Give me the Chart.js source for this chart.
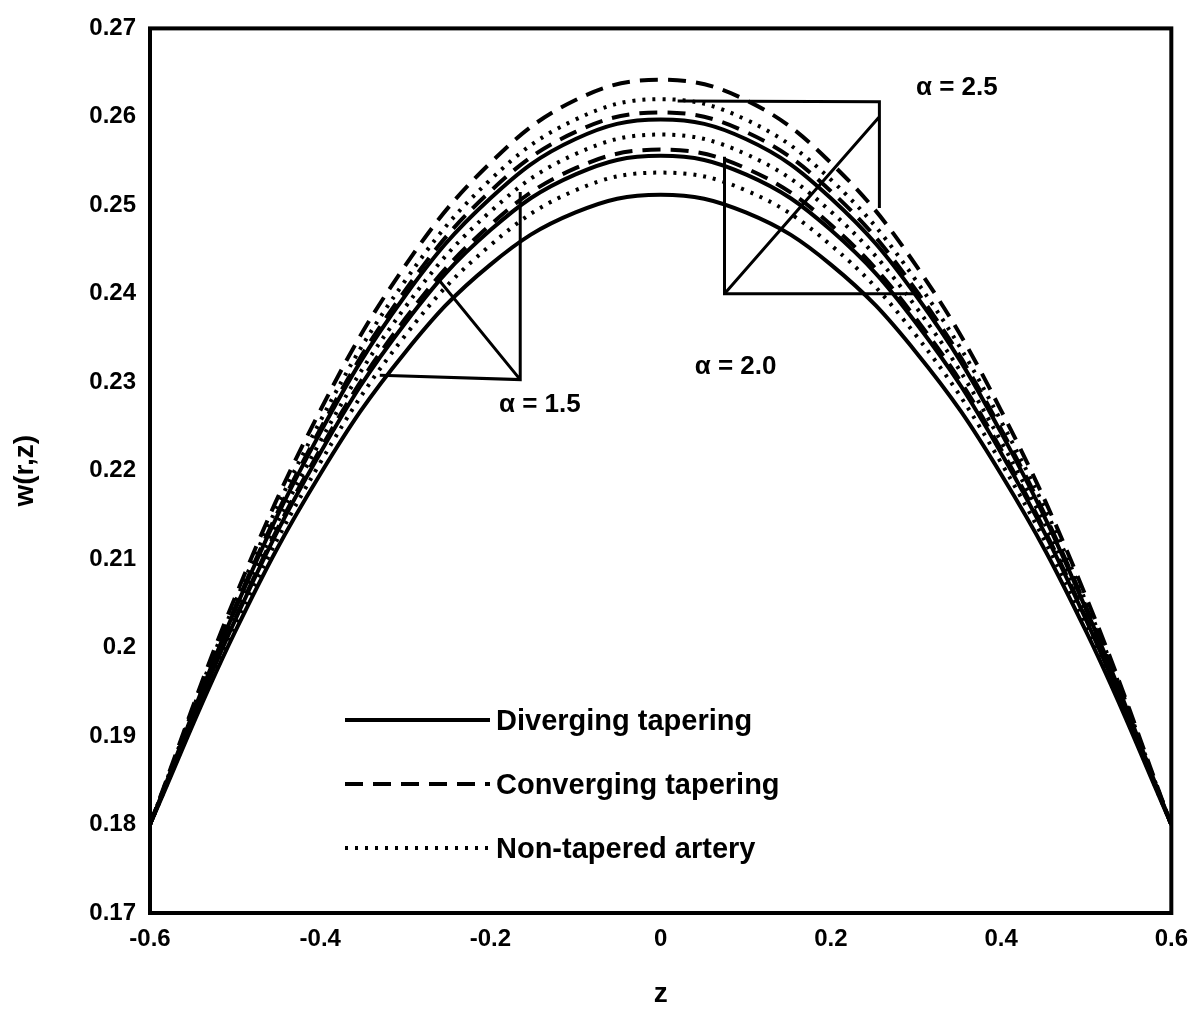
<!DOCTYPE html><html><head><script src="https://cdn.jsdelivr.net/npm/chart.js@4"></script>
<style>body{margin:0;background:#fff}#w{width:1200px;height:1015px}</style></head><body><div id="w"><canvas id="c"></canvas></div>
<script>
const zVals=[-0.6,-0.5,-0.4,-0.3,-0.2,-0.1,0,0.1,0.2,0.3,0.4,0.5,0.6];
const div15=[0.18,0.2018,0.2196,0.2334,0.2433,0.2492,0.2512,0.2492,0.2433,0.2334,0.2196,0.2018,0.18];
const div20=[0.18,0.2031,0.2220,0.2367,0.2472,0.2535,0.2556,0.2535,0.2472,0.2367,0.2220,0.2031,0.18];
const div25=[0.18,0.2043,0.2243,0.2398,0.2508,0.2575,0.2597,0.2575,0.2508,0.2398,0.2243,0.2043,0.18];
const non15=[0.18,0.2025,0.2209,0.2353,0.2455,0.2517,0.2537,0.2517,0.2455,0.2353,0.2209,0.2025,0.18];
const non20=[0.18,0.2038,0.2233,0.2385,0.2493,0.2558,0.2580,0.2558,0.2493,0.2385,0.2233,0.2038,0.18];
const non25=[0.18,0.2051,0.2256,0.2415,0.2529,0.2597,0.2620,0.2597,0.2529,0.2415,0.2256,0.2051,0.18];
const con15=[0.18,0.2033,0.2224,0.2372,0.2478,0.2542,0.2563,0.2542,0.2478,0.2372,0.2224,0.2033,0.18];
const con20=[0.18,0.2046,0.2247,0.2404,0.2516,0.2583,0.2605,0.2583,0.2516,0.2404,0.2247,0.2046,0.18];
const con25=[0.18,0.2057,0.2268,0.2432,0.2548,0.2619,0.2642,0.2619,0.2548,0.2432,0.2268,0.2057,0.18];
const ann15=[[-0.33,0.2308],[-0.165,0.2303],[-0.165,0.2515],null,[-0.165,0.2303],[-0.26,0.2415]];
const ann20=[[0.305,0.2400],[0.075,0.2400],[0.075,0.2555]];
const ann25=[[0.02,0.2618],[0.257,0.2617],[0.257,0.2497],null,[0.257,0.2600],[0.075,0.2400]];
const labels=[["α = 1.5",-0.19,0.2275],["α = 2.0",0.04,0.2317],["α = 2.5",0.30,0.2633]];
const legendItems=[["Diverging tapering",[]],["Converging tapering",[18,10]],["Non-tapered artery",[3,7]]];
const F='"Liberation Sans", Arial, sans-serif';
const pts=a=>zVals.map((z,i)=>({x:z,y:a[i]}));
const curve=(a,d)=>({data:pts(a),borderColor:'#000',borderWidth:4,borderDash:d,pointRadius:0,tension:0.4,fill:false});
const annD=a=>({data:a.map(p=>p?{x:p[0],y:p[1]}:{x:null,y:null}),borderColor:'#000',borderWidth:3,pointRadius:0,tension:0,spanGaps:false});
const plug={id:'p',afterDatasetsDraw(ch){const c=ch.ctx,x=ch.scales.x,y=ch.scales.y;c.save();c.fillStyle='#000';
c.font='bold 26px '+F;c.textBaseline='middle';
labels.forEach(l=>{c.fillText(l[0],x.getPixelForValue(l[1]),y.getPixelForValue(l[2]));});
c.font='bold 29px '+F;
legendItems.forEach((it,i)=>{const yy=720+i*64;c.beginPath();c.setLineDash(it[1]);c.lineWidth=4;c.strokeStyle='#000';c.moveTo(345,yy);c.lineTo(490,yy);c.stroke();c.setLineDash([]);c.fillText(it[0],496,yy+2);});
c.lineWidth=4;c.strokeRect(ch.chartArea.left,ch.chartArea.top,ch.chartArea.right-ch.chartArea.left,ch.chartArea.bottom-ch.chartArea.top);
c.restore();}};
new Chart(document.getElementById('c'),{type:'line',data:{datasets:[curve(div15,[]),curve(div20,[]),curve(div25,[]),curve(non15,[3,7]),curve(non20,[3,7]),curve(non25,[3,7]),curve(con15,[18,10]),curve(con20,[18,10]),curve(con25,[18,10]),annD(ann15),annD(ann20),annD(ann25)]},
options:{responsive:true,maintainAspectRatio:false,animation:false,layout:{padding:{top:17,right:23,left:4}},plugins:{legend:{display:false},tooltip:{enabled:false}},
scales:{x:{type:'linear',min:-0.6,max:0.6,afterFit:s=>{s.height=102;},grid:{display:false,drawTicks:false},border:{display:false},ticks:{stepSize:0.2,padding:12,color:'#000',font:{family:F,size:24,weight:'bold'},callback:v=>Math.abs(v)<1e-9?'0':String(+v.toFixed(1))},title:{display:true,text:'z',color:'#000',font:{family:F,size:28,weight:'bold'},padding:{top:4}}},
y:{min:0.17,max:0.27,afterFit:s=>{s.width=146;},grid:{display:false,drawTicks:false},border:{display:false},ticks:{stepSize:0.01,padding:14,color:'#000',font:{family:F,size:24,weight:'bold'},callback:v=>String(+v.toFixed(2))},title:{display:true,text:'w(r,z)',color:'#000',font:{family:F,size:28,weight:'bold'}}}}},plugins:[plug]});
</script></body></html>
